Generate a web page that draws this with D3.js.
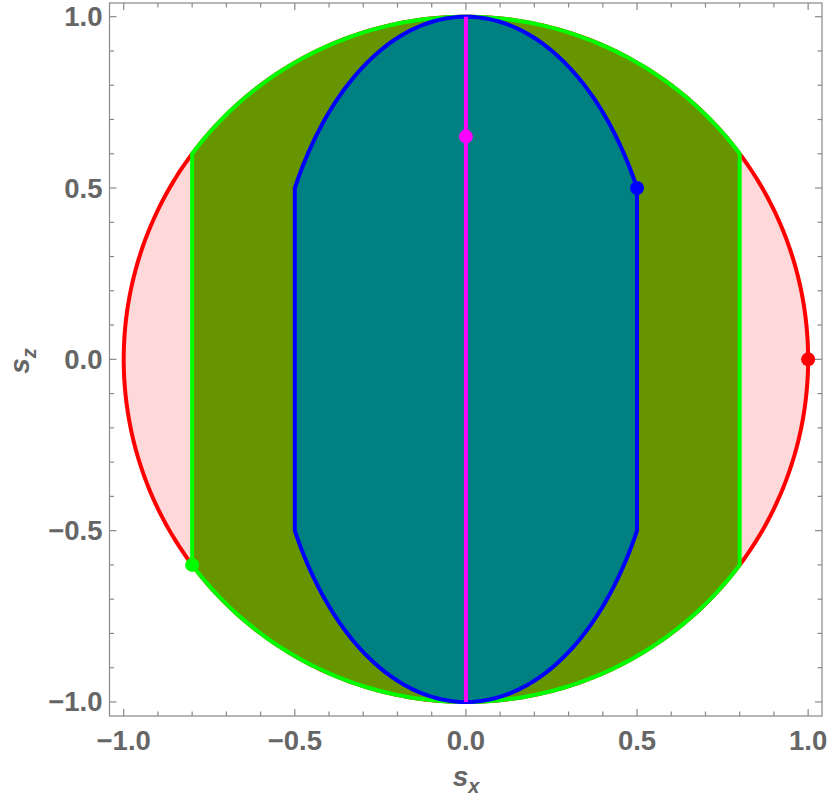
<!DOCTYPE html>
<html><head><meta charset="utf-8">
<script src="https://cdn.jsdelivr.net/npm/d3@7"></script>
<style>body{margin:0;background:#fff}svg{display:block}</style>
</head><body>
<svg id="c" width="830" height="805"></svg>
<script>
const xTicks = [-1.0, -0.5, 0.0, 0.5, 1.0];
const yTicks = [-1.0, -0.5, 0.0, 0.5, 1.0];
const xTickLabels = ["\u22121.0", "\u22120.5", "0.0", "0.5", "1.0"];
const yTickLabels = ["\u22121.0", "\u22120.5", "0.0", "0.5", "1.0"];
const circleRadius = 1.0;        // red circle
const greenCut = 0.8;            // green region |x| <= 0.8
const blueHalfWidth = 0.5;       // blue region vertical sides
const blueEllipseA = Math.sqrt(1/3); // blue arcs: 3x^2 + z^2 = 1
const points = [
  {x: 0.0, z: 0.65, color: "#ff00ff"},
  {x: 0.5, z: 0.5, color: "#0000ff"},
  {x: 1.0, z: 0.0, color: "#ff0000"},
  {x: -0.8, z: -0.6, color: "#00ff00"}
];

const svg = d3.select("#c");
const x = d3.scaleLinear().domain([-1.0415, 1.0405]).range([109.5, 822]);
const y = d3.scaleLinear().domain([-1.041, 1.04]).range([716, 3]);
const line = d3.line().x(d => x(d[0])).y(d => y(d[1]));
const LW = 4;

// red circle
const N = 360;
const circlePts = d3.range(N + 1).map(i => {
  const t = 2 * Math.PI * i / N;
  return [circleRadius * Math.cos(t), circleRadius * Math.sin(t)];
});
svg.append("path").attr("d", line(circlePts) + "Z")
  .attr("fill", "#ffd9d9").attr("stroke", "#ff0000").attr("stroke-width", LW);

// green region: disk cut at |x|<=greenCut
const zc = Math.sqrt(1 - greenCut * greenCut);
const a0 = Math.atan2(zc, greenCut);
const greenPts = [];
for (let i = 0; i <= 100; i++) { const t = a0 + (Math.PI - 2 * a0) * i / 100; greenPts.push([Math.cos(t), Math.sin(t)]); }
for (let i = 0; i <= 100; i++) { const t = Math.PI + a0 + (Math.PI - 2 * a0) * i / 100; greenPts.push([Math.cos(t), Math.sin(t)]); }
svg.append("path").attr("d", line(greenPts) + "Z")
  .attr("fill", "#669500").attr("stroke", "#00ff00").attr("stroke-width", LW);

// blue region
const zb = Math.sqrt(1 - (blueHalfWidth / blueEllipseA) ** 2);
const b0 = Math.atan2(zb, blueHalfWidth / blueEllipseA);
const bluePts = [];
for (let i = 0; i <= 100; i++) { const t = b0 + (Math.PI - 2 * b0) * i / 100; bluePts.push([blueEllipseA * Math.cos(t), Math.sin(t)]); }
for (let i = 0; i <= 100; i++) { const t = Math.PI + b0 + (Math.PI - 2 * b0) * i / 100; bluePts.push([blueEllipseA * Math.cos(t), Math.sin(t)]); }
svg.append("path").attr("d", line(bluePts) + "Z")
  .attr("fill", "#008080").attr("stroke", "#0000ff").attr("stroke-width", LW);

// magenta line
svg.append("path").attr("d", line([[0, -1], [0, 1]]))
  .attr("stroke", "#ff00ff").attr("stroke-width", LW);

// points
svg.selectAll("circle.pt").data(points).join("circle")
  .attr("cx", d => x(d.x)).attr("cy", d => y(d.z)).attr("r", 7)
  .attr("fill", d => d.color);

// frame
const [x0, x1] = x.range(), [y0, y1] = y.range();
svg.append("rect").attr("x", x0).attr("y", y1).attr("width", x1 - x0).attr("height", y0 - y1)
  .attr("fill", "none").attr("stroke", "#888").attr("stroke-width", 1.2);

// ticks
const minor = d3.range(-10, 11).map(i => i / 10);
const tg = svg.append("g").attr("stroke", "#888").attr("stroke-width", 1.2);
minor.forEach(v => {
  const major = Math.abs(v * 2 - Math.round(v * 2)) < 1e-9;
  const L = major ? 7 : 4.5;
  tg.append("line").attr("x1", x(v)).attr("x2", x(v)).attr("y1", y0).attr("y2", y0 - L);
  tg.append("line").attr("x1", x(v)).attr("x2", x(v)).attr("y1", y1).attr("y2", y1 + L);
  tg.append("line").attr("y1", y(v)).attr("y2", y(v)).attr("x1", x0).attr("x2", x0 + L);
  tg.append("line").attr("y1", y(v)).attr("y2", y(v)).attr("x1", x1).attr("x2", x1 - L);
});

const font = "'Liberation Sans', Arial, sans-serif";
svg.selectAll("text.xt").data(xTicks).join("text")
  .attr("x", d => x(d)).attr("y", 750).attr("text-anchor", "middle")
  .attr("font-family", font).attr("font-weight", "bold").attr("font-size", 27.5)
  .attr("fill", "#666").text((d, i) => xTickLabels[i]);
svg.selectAll("text.yt").data(yTicks).join("text")
  .attr("x", 102.5).attr("y", d => y(d) + 9.5).attr("text-anchor", "end")
  .attr("font-family", font).attr("font-weight", "bold").attr("font-size", 27.5)
  .attr("fill", "#666").text((d, i) => yTickLabels[i]);

// axis labels
const xl = svg.append("text").attr("x", 466).attr("y", 786).attr("text-anchor", "middle")
  .attr("font-family", font).attr("font-weight", "bold").attr("font-style", "italic")
  .attr("font-size", 28).attr("fill", "#666");
xl.append("tspan").text("s");
xl.append("tspan").attr("dy", 7).attr("font-size", 20).text("x");
const yl = svg.append("text").attr("transform", "translate(29,361) rotate(-90)").attr("text-anchor", "middle")
  .attr("font-family", font).attr("font-weight", "bold").attr("font-style", "italic")
  .attr("font-size", 28).attr("fill", "#666");
yl.append("tspan").text("s");
yl.append("tspan").attr("dy", 7).attr("font-size", 20).text("z");
</script>
</body></html>
